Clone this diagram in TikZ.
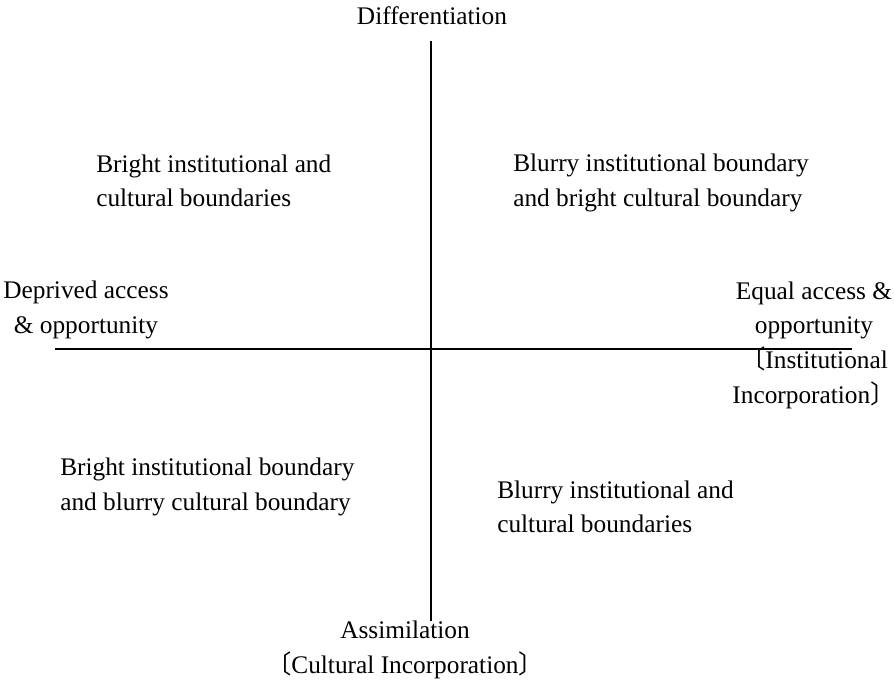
\documentclass[tikz,border=0pt]{standalone}
\usepackage{fontspec}
\setmainfont{Liberation Serif}
\newfontfamily\cjk{Noto Sans CJK SC}
\usepackage{tikz}

\tikzset{
  lbl/.style={font=\fontsize{19}{26}\selectfont, inner sep=0pt},
  quad/.style={lbl, align=left, anchor=west},
  axis/.style={lbl, align=center}
}

\begin{document}
\begin{tikzpicture}[x=0.75pt, y=-0.75pt]
    \useasboundingbox (0,0) rectangle (894,680);
    % axes
    \coordinate (top) at (431,41);
    \coordinate (bottom) at (431,621);
    \coordinate (left) at (55,349);
    \coordinate (right) at (852,349);
    \draw[line width=0.9pt] (top) -- (bottom);
    \draw[line width=0.9pt] (left) -- (right);

    % axis ends
    \node[axis] (diff) at (432,16) {Differentiation};
    \node[axis] (depr) at (86,310) {Deprived access\\ \& opportunity};
    \node[axis] (equal) at (814,345) {Equal access \&\\ opportunity\\ {\cjk 〔}Institutional\\ Incorporation{\cjk 〕}};
    \node[axis] (assim) at (405,650) {Assimilation\\ {\cjk 〔}Cultural Incorporation{\cjk 〕}};

    % quadrants
    \node[quad] (q1) at (96,181) {Bright institutional and\\ cultural boundaries};
    \node[quad] (q2) at (513,183) {Blurry institutional boundary\\ and bright cultural boundary};
    \node[quad] (q3) at (60,487) {Bright institutional boundary\\ and blurry cultural boundary};
    \node[quad] (q4) at (497,507) {Blurry institutional and\\ cultural boundaries};
\end{tikzpicture}
\end{document}
